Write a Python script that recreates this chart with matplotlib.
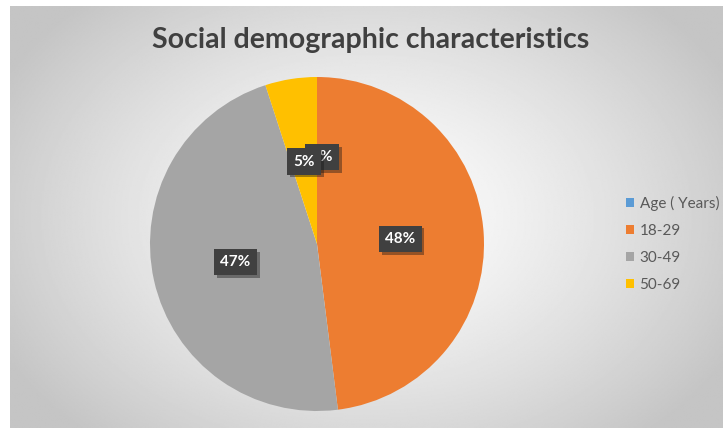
import matplotlib

matplotlib.use("Agg")
import matplotlib.pyplot as plt
import matplotlib.patheffects as pe
import numpy as np

# chart data
categories = ["Age ( Years)", "18-29", "30-49", "50-69"]
shares = [0, 48, 47, 5]
colors = ["#5B9BD5", "#ED7D31", "#A5A5A5", "#FFC000"]
title = "Social demographic characteristics"

W, H = 723, 428
fig = plt.figure(figsize=(W / 100, H / 100), dpi=100)
fig.patch.set_facecolor("white")

# radial gray gradient background (Excel-style chart area)
bg = fig.add_axes([10 / W, 0, (W - 10) / W, (H - 6) / H])
yy, xx = np.mgrid[0:1:300j, 0:1:500j]
r = np.sqrt(((xx - 0.5) / 0.62) ** 2 + ((yy - 0.5) / 0.75) ** 2)
shade = np.clip(1.0 - 0.25 * r ** 1.3, 0.77, 1.0)
bg.imshow(shade, cmap="gray", vmin=0, vmax=1, aspect="auto", extent=[0, 1, 0, 1])
bg.axis("off")

fig.text(371 / W, 1 - 40 / H, title, ha="center", va="center",
         fontsize=20.5, fontweight="bold", color="#404040", family="Lato")

cx, cy, rad = 317, 244, 167
ax = fig.add_axes([(cx - rad) / W, (H - cy - rad) / H, 2 * rad / W, 2 * rad / H])
wedges, texts, autotexts = ax.pie(
    shares,
    colors=colors,
    startangle=90,
    counterclock=False,
    autopct="%.0f%%",
    pctdistance=0.5,
    wedgeprops=dict(linewidth=0),
    textprops=dict(color="white", fontsize=11, fontweight="bold", family="Lato"),
)
ax.set_xlim(-1, 1)
ax.set_ylim(-1, 1)
ax.set_aspect("equal")
for t in autotexts:
    t.set_bbox(dict(boxstyle="square,pad=0.4", facecolor="#404040", edgecolor="none"))
    t.get_bbox_patch().set_path_effects(
        [pe.SimplePatchShadow(offset=(2, -2), alpha=0.4), pe.Normal()])
# the empty category's label sits just right of the 5% label, partly hidden
x0, y0 = autotexts[0].get_position()
autotexts[0].set_position((x0 + 0.03, y0 + 0.02))

leg = fig.legend(wedges, categories, loc="center left",
                 bbox_to_anchor=(612 / W, 1 - 244 / H), frameon=False,
                 handlelength=0.55, handleheight=0.55, handletextpad=0.35,
                 labelspacing=0.85, prop=dict(family="Lato", size=11))
for txt in leg.get_texts():
    txt.set_color("#595959")

fig.savefig("out.png", dpi=100)
